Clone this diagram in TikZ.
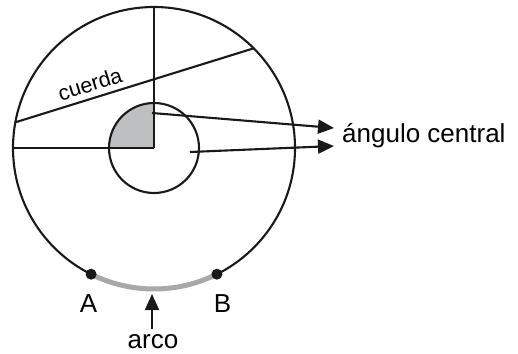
\documentclass[tikz,border=0pt]{standalone}
\usepackage{fontspec}
\setmainfont{Liberation Sans}
\usetikzlibrary{arrows.meta,calc}
\definecolor{sectorgray}{HTML}{BEBFC1}
\definecolor{arcgray}{HTML}{A7A8AA}
\begin{document}
\begin{tikzpicture}[x=1pt,y=-1pt,
  ln/.style={line width=2.1pt,black!90},
  arr/.style={line width=2.1pt,black!90,-{Triangle[length=16pt,width=14pt]}},
  lbl/.style={inner sep=0pt,font=\fontsize{26}{29}\selectfont},
  dot/.style={circle,fill=black!90,inner sep=0pt,minimum size=11pt}]
\useasboundingbox (0,0) rectangle (518,353);
\coordinate (O) at (154,148);
% shaded sector
\fill[sectorgray] (O) -- ++(0,-45) arc[start angle=-90,end angle=-180,radius=45] -- cycle;
% circles
\draw[ln] (O) circle[radius=141];
\draw[ln] (O) circle[radius=45];
% radii
\coordinate (Top) at ($(O)+(-90:141)$);
\coordinate (Left) at ($(O)+(180:141)$);
\draw[ln] (O) -- (Top);
\draw[ln] (O) -- (Left);
% chord
\coordinate (P1) at ($(O)+(190.5:141)$);
\coordinate (P2) at ($(O)+(-45:141)$);
\draw[ln] (P1) -- (P2);
\node[inner sep=0pt,rotate=17.3,font=\fontsize{21.5}{24}\selectfont] (cuerda) at (90,84) {cuerda};
% arc AB
\coordinate (A) at ($(O)+(116.5:141)$);
\coordinate (B) at ($(O)+(63.5:141)$);
\draw[arcgray,line width=5pt] (A) arc[start angle=116.5,end angle=63.5,radius=141];
\node[dot] (dA) at (A) {};
\node[dot] (dB) at (B) {};
\node[lbl,anchor=base] (labA) at (88.5,312) {A};
\node[lbl,anchor=base] (labB) at (222.5,312) {B};
% arco
\node[lbl,anchor=base] (arco) at (153,348) {arco};
\coordinate (arcotip) at (152,294);
\coordinate (arcotail) at (152,329);
\draw[arr] (arcotail) -- (arcotip);
% angulo central
\node[lbl,anchor=base west] (ang) at (342,142) {ángulo central};
\coordinate (s1) at (152,113);
\coordinate (s2) at (190,152);
\coordinate (t1) at (334,128);
\coordinate (t2) at (334,146);
\draw[arr] (s1) -- (t1);
\draw[arr] (s2) -- (t2);
\end{tikzpicture}
\end{document}
